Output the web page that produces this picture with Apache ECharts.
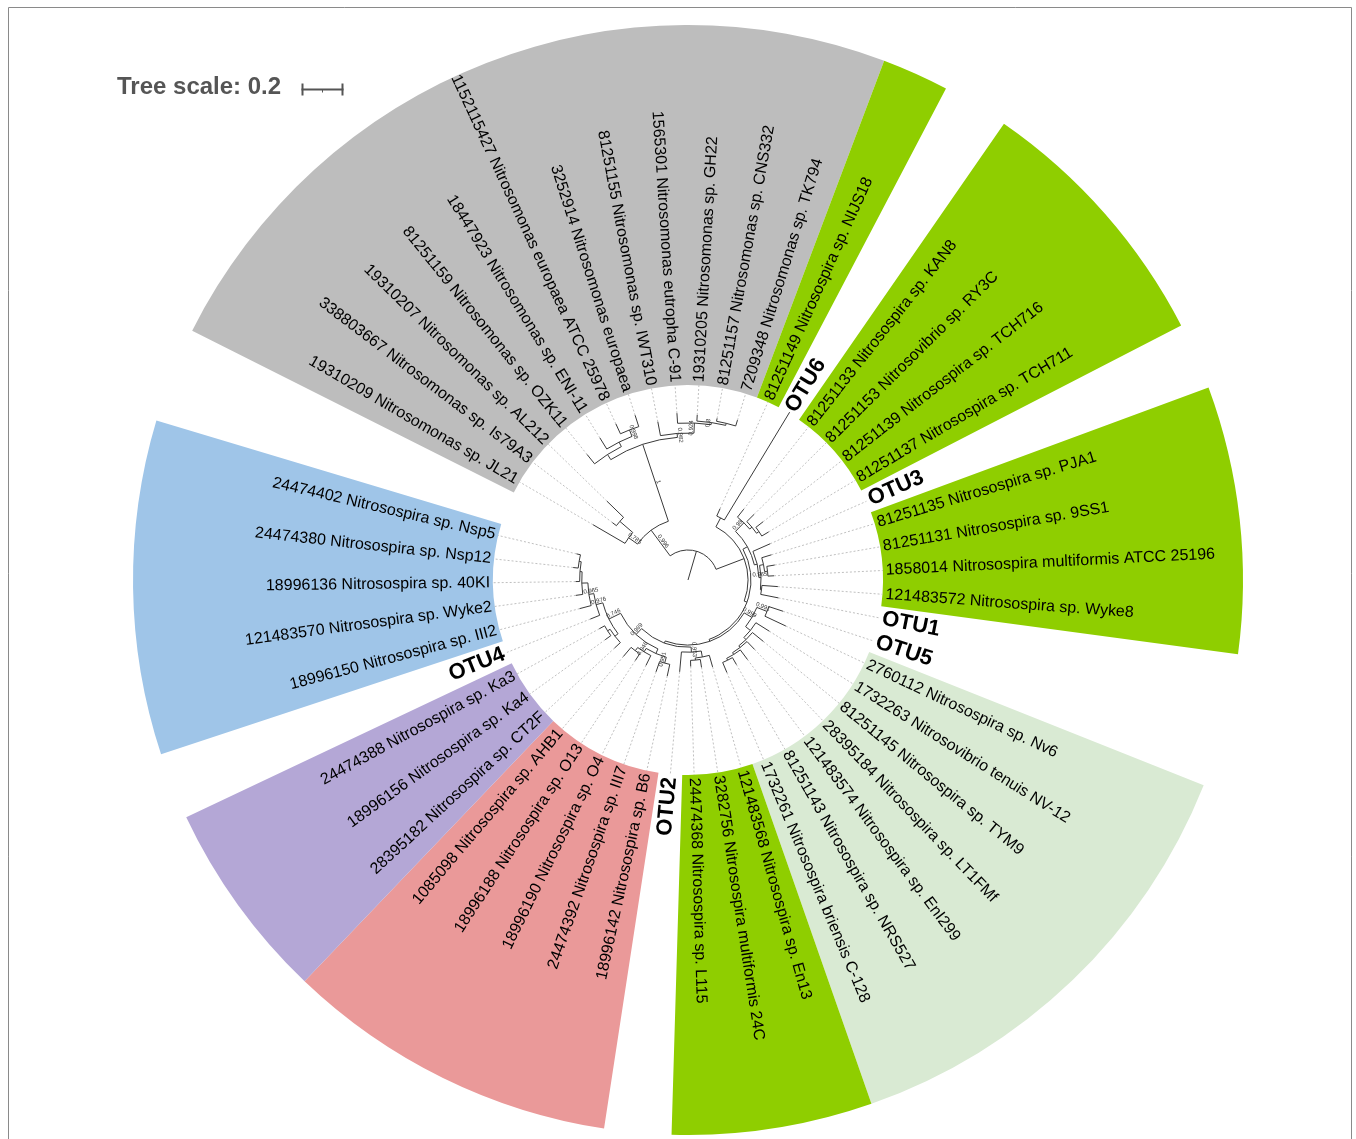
<!DOCTYPE html>
<html><head><meta charset="utf-8">
<script src="https://cdn.jsdelivr.net/npm/echarts@6/dist/echarts.min.js"></script>
<style>html,body{margin:0;padding:0;background:#fff;}#chart{width:1356px;height:1139px;}</style>
</head><body><div id="chart"></div>
<script>
// ---------------- DATA ----------------
const leafNames = [
  "19310209 Nitrosomonas sp. JL21",
  "338803667 Nitrosomonas sp. Is79A3",
  "19310207 Nitrosomonas sp. AL212",
  "81251159 Nitrosomonas sp. OZK11",
  "18447923 Nitrosomonas sp. ENI-11",
  "1152115427 Nitrosomonas europaea ATCC 25978",
  "3252914 Nitrosomonas europaea",
  "81251155 Nitrosomonas sp. IWT310",
  "1565301 Nitrosomonas eutropha C-91",
  "19310205 Nitrosomonas sp. GH22",
  "81251157 Nitrosomonas sp. CNS332",
  "7209348 Nitrosomonas sp. TK794",
  "81251149 Nitrosospira sp. NIJS18",
  "OTU6",
  "81251133 Nitrosospira sp. KAN8",
  "81251153 Nitrosovibrio sp. RY3C",
  "81251139 Nitrosospira sp. TCH716",
  "81251137 Nitrosospira sp. TCH711",
  "OTU3",
  "81251135 Nitrosospira sp. PJA1",
  "81251131 Nitrosospira sp. 9SS1",
  "1858014 Nitrosospira multiformis ATCC 25196",
  "121483572 Nitrosospira sp. Wyke8",
  "OTU1",
  "OTU5",
  "2760112 Nitrosospira sp. Nv6",
  "1732263 Nitrosovibrio tenuis NV-12",
  "81251145 Nitrosospira sp. TYM9",
  "28395184 Nitrosospira sp. LT1FMf",
  "121483574 Nitrosospira sp. EnI299",
  "81251143 Nitrosospira sp. NRS527",
  "1732261 Nitrosospira briensis C-128",
  "121483568 Nitrosospira sp. En13",
  "3282756 Nitrosospira multiformis 24C",
  "24474368 Nitrosospira sp. L115",
  "OTU2",
  "18996142 Nitrosospira sp. B6",
  "24474392 Nitrosospira sp. III7",
  "18996190 Nitrosospira sp. O4",
  "18996188 Nitrosospira sp. O13",
  "1085098 Nitrosospira sp. AHB1",
  "28395182 Nitrosospira sp. CT2F",
  "18996156 Nitrosospira sp. Ka4",
  "24474388 Nitrosospira sp. Ka3",
  "OTU4",
  "18996150 Nitrosospira sp. III2",
  "121483570 Nitrosospira sp. Wyke2",
  "18996136 Nitrosospira sp. 40KI",
  "24474380 Nitrosospira sp. Nsp12",
  "24474402 Nitrosospira sp. Nsp5"
];
// leaves referenced by index; internal labels = bootstrap support; lengths = substitutions/site
const treeNewick =
  "(" +
   "((0:0.176,(1:0.024,2:0.110):0.081)0.785:0.052," +
    "((3:0.057,(4:0.062,(5:0.052,6:0.057)0.998:0.033):0.024):0.029," +
     "(7:0.067,(8:0.048,(9:0.029,(10:0.014,11:0.029):0.010)0.8:0.010)0.924:0.048)0.982:0.019)1:0.386)0.996:0.152," +
   "((12:0.038,13:0.600):0.048," +
    "(((14:0.048,(15:0.048,(16:0.043,17:0.038):0.014):0.014)0.98:0.057," +
      "(18:0.090,((19:0.048,(20:0.038,21:0.029):0.014):0.019,(22:0.076,23:0.086):0.005)0.965:0.010):0.014):0.024," +
     "(((24:0.071,25:0.110)0.991:0.052,(26:0.076,(27:0.067,(28:0.052,(29:0.057,(30:0.038,31:0.052):0.010):0.010):0.010):0.014):0.029)0.999:0.043," +
      "(((32:0.057,(33:0.038,34:0.029):0.010):0.029,35:0.095)0.953:0.024," +
       "(((36:0.057,37:0.052)0.951:0.029,(38:0.052,(39:0.038,40:0.057):0.019)0.946:0.019):0.024," +
        "((41:0.038,(42:0.033,43:0.029):0.014):0.019," +
         "(44:0.048,(45:0.057,(46:0.033,(47:0.019,(48:0.024,49:0.019):0.010):0.010):0.029)0.965:0.024)0.976:0.033)0.746:0.062)0.989:0.038):0.010):0.010):0.014):0.143" +
  "):0.143;";
const cladeFirst = [0, 12, 14, 19, 25, 32, 36, 41, 45];
const cladeLast  = [11, 12, 17, 22, 31, 34, 40, 43, 49];
const cladeColorKey = ['gray','green','green','green','pale','green','red','purple','blue'];
const treeScaleValue = 0.2;
const treeScaleText = 'Tree scale: 0.2';

// ---------------- STYLE / LAYOUT ----------------
const palette = {gray:'#bdbdbd', green:'#8fce00', pale:'#d9ead3', red:'#ea9999', purple:'#b4a7d6', blue:'#9fc5e8'};
const CX = 688, CY = 580, OUTER_PX = 555;
const RADIUS_MAX = 2.643;              // tree units at the outer edge
const PX_PER_UNIT = OUTER_PX / RADIUS_MAX;
const FIRST_ANGLE = 149.8, STEP = 7;   // degrees, leaves clockwise
const R_DOT_END = 195 / PX_PER_UNIT;
const R_LABEL = 198 / PX_PER_UNIT;
const R_WEDGE_IN = 195 / PX_PER_UNIT;
const FONT = '"Liberation Sans", Arial, sans-serif';

function parseNewick(str) {
  const s = str.replace(/\s+/g, '');
  let i = 0;
  function node() {
    const n = {children: []};
    if (s[i] === '(') {
      i++;
      n.children.push(node());
      while (s[i] === ',') { i++; n.children.push(node()); }
      i++;
    }
    let lab = '';
    while (i < s.length && ':,);'.indexOf(s[i]) < 0) lab += s[i++];
    n.label = lab;
    n.len = 0;
    if (s[i] === ':') {
      i++; let num = '';
      while (i < s.length && ',);'.indexOf(s[i]) < 0) num += s[i++];
      n.len = parseFloat(num);
    }
    return n;
  }
  return node();
}
const leafAngle = idx => FIRST_ANGLE - STEP * idx;
const norm = a => ((a % 360) + 360) % 360;

const root = parseNewick(treeNewick);
const stems = [], arcs = [], dots = [], leaves = [], boots = [];
(function layout(n, r0) {
  n.r0 = r0; n.r = r0 + n.len;
  if (!n.children.length) {
    n.idx = parseInt(n.label, 10);
    n.angle = leafAngle(n.idx);
  } else {
    n.children.forEach(c => layout(c, n.r));
    n.angle = (n.children[0].angle + n.children[n.children.length - 1].angle) / 2;
  }
})(root, 0);
(function collect(n) {
  stems.push([n.r0, n.r, n.angle]);
  if (n.children.length) {
    arcs.push([n.r, n.children[n.children.length - 1].angle, n.children[0].angle]);
    if (n.label) boots.push([(n.r0 + n.r) / 2, n.angle, n.label]);
    n.children.forEach(collect);
  } else {
    dots.push([n.r, R_DOT_END, n.angle]);
    leaves.push([R_LABEL, n.angle, n.idx]);
  }
})(root);

const wedges = cladeFirst.map((f, k) => [R_WEDGE_IN, RADIUS_MAX, leafAngle(f) + STEP / 2, leafAngle(cladeLast[k]) - STEP / 2, k]);

function pxRadius(api, params, r) {
  const p = api.coord([r, 0]);
  return Math.hypot(p[0] - params.coordSys.cx, p[1] - params.coordSys.cy);
}
const D2R = Math.PI / 180;
const barLen = treeScaleValue * PX_PER_UNIT;

const chart = echarts.init(document.getElementById('chart'), null, {renderer: 'canvas'});
chart.setOption({
  animation: false,
  backgroundColor: '#ffffff',
  polar: {center: [CX, CY], radius: OUTER_PX},
  angleAxis: {type: 'value', min: 0, max: 360, startAngle: 0, clockwise: false, show: false},
  radiusAxis: {type: 'value', min: 0, max: RADIUS_MAX, show: false},
  graphic: [
    {type: 'rect', silent: true, shape: {x: 8.5, y: 7.5, width: 1343, height: 1150},
     style: {fill: 'none', stroke: '#8a8a8a', lineWidth: 1}},
    {type: 'text', left: 117, top: 75, silent: true,
     style: {text: treeScaleText, fill: '#555555', font: 'bold 24px ' + FONT}},
    {type: 'group', left: 299, top: 81, silent: true, children: [
      {type: 'line', shape: {x1: 0, y1: 6, x2: barLen, y2: 6}, style: {stroke: '#555', lineWidth: 2}},
      {type: 'line', shape: {x1: 1, y1: 0, x2: 1, y2: 12}, style: {stroke: '#555', lineWidth: 2}},
      {type: 'line', shape: {x1: barLen - 1, y1: 0, x2: barLen - 1, y2: 12}, style: {stroke: '#555', lineWidth: 2}},
      {type: 'line', shape: {x1: barLen / 2, y1: 6, x2: barLen / 2, y2: 9}, style: {stroke: '#555', lineWidth: 1}}
    ]}
  ],
  series: [
    { // colored ranges
      type: 'custom', coordinateSystem: 'polar', silent: true, clip: false, z: 1,
      data: wedges,
      renderItem(params, api) {
        const r0 = pxRadius(api, params, api.value(0));
        const r1 = pxRadius(api, params, api.value(1));
        const aHi = api.value(2), aLo = api.value(3);
        const k = api.value(4);
        return {type: 'sector', shape: {cx: params.coordSys.cx, cy: params.coordSys.cy, r0: r0, r: r1,
          startAngle: -aHi * D2R, endAngle: -aLo * D2R, clockwise: true},
          style: {fill: palette[cladeColorKey[k]]}};
      }
    },
    { // dotted leaf extensions
      type: 'custom', coordinateSystem: 'polar', silent: true, clip: false, z: 2,
      data: dots,
      renderItem(params, api) {
        const a = norm(api.value(2));
        const p0 = api.coord([api.value(0), a]), p1 = api.coord([api.value(1), a]);
        return {type: 'line', shape: {x1: p0[0], y1: p0[1], x2: p1[0], y2: p1[1]},
          style: {stroke: '#b0b0b0', lineWidth: 0.8, lineDash: [2, 2]}};
      }
    },
    { // radial branches
      type: 'custom', coordinateSystem: 'polar', silent: true, clip: false, z: 3,
      data: stems,
      renderItem(params, api) {
        const a = norm(api.value(2));
        const p0 = api.coord([api.value(0), a]), p1 = api.coord([api.value(1), a]);
        return {type: 'line', shape: {x1: p0[0], y1: p0[1], x2: p1[0], y2: p1[1]},
          style: {stroke: '#3a3a3a', lineWidth: 1}};
      }
    },
    { // node arcs
      type: 'custom', coordinateSystem: 'polar', silent: true, clip: false, z: 3,
      data: arcs,
      renderItem(params, api) {
        const r = pxRadius(api, params, api.value(0));
        const aLo = api.value(1), aHi = api.value(2);
        return {type: 'arc', shape: {cx: params.coordSys.cx, cy: params.coordSys.cy, r: r,
          startAngle: -aHi * D2R, endAngle: -aLo * D2R, clockwise: true},
          style: {stroke: '#3a3a3a', lineWidth: 1, fill: null}};
      }
    },
    { // bootstrap values
      type: 'custom', coordinateSystem: 'polar', silent: true, clip: false, z: 4,
      data: boots,
      renderItem(params, api) {
        const item = boots[params.dataIndex];
        const a = norm(item[1]);
        const p = api.coord([item[0], a]);
        const flip = a > 90 && a < 270;
        return {type: 'text', x: p[0], y: p[1], rotation: (flip ? a - 180 : a) * D2R,
          style: {text: item[2], fill: '#333', font: '6px ' + FONT, align: 'center', verticalAlign: 'bottom'}};
      }
    },
    { // leaf labels
      type: 'custom', coordinateSystem: 'polar', silent: true, clip: false, z: 5,
      data: leaves,
      renderItem(params, api) {
        const item = leaves[params.dataIndex];
        const a = norm(item[1]);
        const p = api.coord([item[0], a]);
        const flip = a > 90 && a < 270;
        const name = leafNames[item[2]];
        const isOtu = /^OTU/.test(name);
        return {type: 'text', x: p[0], y: p[1], rotation: (flip ? a - 180 : a) * D2R,
          style: {text: name, fill: '#000',
            font: isOtu ? 'bold 22px ' + FONT : '16px ' + FONT,
            align: flip ? 'right' : 'left', verticalAlign: 'middle'}};
      }
    }
  ]
});
</script>
</body></html>
